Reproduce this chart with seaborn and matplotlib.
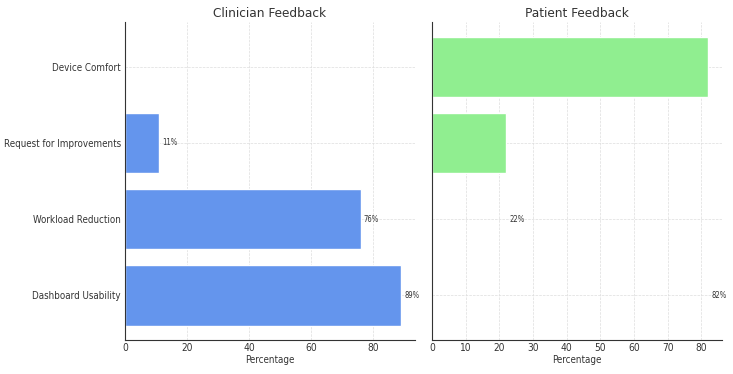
import matplotlib
matplotlib.use("Agg")
import matplotlib.pyplot as plt
import seaborn as sns
import pandas as pd

categories = ["Dashboard Usability", "Workload Reduction", "Request for Improvements", "Device Comfort"]
clinician_values = [89, 76, 11, 0]
patient_values = [0, 0, 22, 82]
# patient labels as drawn in the reference (placed on the lower rows)
patient_label_values = [82, 22]
patient_label_rows = ["Dashboard Usability", "Workload Reduction"]

sns.set_style("whitegrid", {"grid.linestyle": "--", "grid.color": "#dddddd",
                            "axes.edgecolor": "#333333"})
plt.rcParams["font.family"] = ["DejaVu Sans"]
plt.rcParams["font.stretch"] = "condensed"

order = categories[::-1]
df_c = pd.DataFrame({"cat": categories, "val": clinician_values})
df_p = pd.DataFrame({"cat": categories, "val": patient_values})

fig, (ax1, ax2) = plt.subplots(1, 2, figsize=(7.33, 3.74), dpi=100, sharey=True)
fig.subplots_adjust(left=0.1705, right=0.985, top=0.941, bottom=0.091, wspace=0.0586)

sns.barplot(data=df_c, y="cat", x="val", order=order, orient="h", color="cornflowerblue",
            saturation=1, width=0.8, ax=ax1)
sns.barplot(data=df_p, y="cat", x="val", order=order, orient="h", color="lightgreen",
            saturation=1, width=0.8, ax=ax2)

for ax, title in [(ax1, "Clinician Feedback"), (ax2, "Patient Feedback")]:
    ax.set_title(title, fontsize=9.7, color="#333333", pad=4)
    ax.set_xlabel("Percentage", fontsize=7, color="#333333", labelpad=1)
    ax.set_ylabel("")
    ax.tick_params(axis="x", labelsize=7.3, colors="#333333", length=0, pad=2.5)
    ax.tick_params(axis="y", labelsize=7, colors="#333333", length=2, width=0.6, pad=0.8)
    for s in ["top", "right"]:
        ax.spines[s].set_visible(False)
    for s in ["left", "bottom"]:
        ax.spines[s].set_linewidth(0.8)
    ax.grid(True, linewidth=0.5)

ax2.tick_params(axis="y", labelleft=False)
ax1.set_ylim(3.59, -0.59)

for cat, v in zip(categories, clinician_values):
    if v > 0:
        ax1.text(v + 1, order.index(cat), f"{v}%", va="center", ha="left", fontsize=5.5, color="#333333")
for cat, v in zip(patient_label_rows, patient_label_values):
    ax2.text(v + 1, order.index(cat), f"{v}%", va="center", ha="left", fontsize=5.5, color="#333333")

ax1.set_xticks([0, 20, 40, 60, 80])
ax2.set_xticks(list(range(0, 90, 10)))

fig.savefig("out.png", dpi=100)
